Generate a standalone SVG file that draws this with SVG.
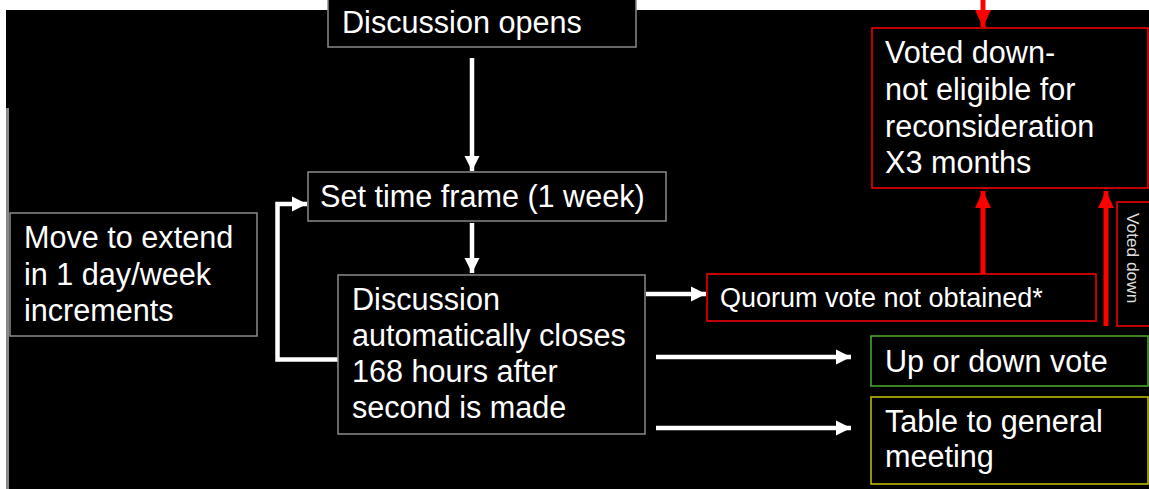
<svg xmlns="http://www.w3.org/2000/svg" width="1149" height="489" viewBox="0 0 1149 489">
<style>
text{font-family:"Liberation Sans",Arial,sans-serif;fill:#fff;font-size:30.6px}
.g{fill:#000;stroke:#8a8a8a;stroke-width:1.5}
.r{fill:#000;stroke:#ff0000;stroke-width:1.5}
.gr{fill:#000;stroke:#4cb02c;stroke-width:1.5}
.y{fill:#000;stroke:#c8c400;stroke-width:1.5}
.w{fill:none;stroke:#fff;stroke-width:4.5}
.rl{fill:none;stroke:#ff0000;stroke-width:5}
</style>
<defs>
<marker id="wa" markerUnits="userSpaceOnUse" markerWidth="16" markerHeight="16" refX="15" refY="8" orient="auto" viewBox="0 0 16 16"><path d="M0,0.5 L15,8 L0,15.5 Z" fill="#fff"/></marker>
<marker id="ra" markerUnits="userSpaceOnUse" markerWidth="18" markerHeight="18" refX="17" refY="9" orient="auto" viewBox="0 0 18 18"><path d="M0,1 L17,9 L0,17 Z" fill="#ff0000"/></marker>
</defs>
<rect x="0" y="0" width="1149" height="489" fill="#fff"/>
<rect x="6" y="10" width="1143" height="479" fill="#000"/>
<rect x="6" y="108" width="3" height="381" fill="#888"/>
<g id="connectors">
<path class="w" d="M472,58 V171" marker-end="url(#wa)"/>
<path class="w" d="M472,223 V273" marker-end="url(#wa)"/>
<path class="w" d="M338,359.5 H277.5 V204 H307" marker-end="url(#wa)"/>
<path class="w" d="M646,294 H706" marker-end="url(#wa)"/>
<path class="w" d="M656,357 H851" marker-end="url(#wa)"/>
<path class="w" d="M656,428 H851" marker-end="url(#wa)"/>
<path class="rl" d="M983,274 V191" marker-end="url(#ra)"/>
<path class="rl" d="M1106,326 V191" marker-end="url(#ra)"/>
<path class="rl" d="M983,0 V27" marker-end="url(#ra)"/>
</g>
<g id="n-open"><rect class="g" x="328" y="-5" width="308" height="52"/><text x="342" y="33">Discussion opens</text></g>
<g id="n-set"><rect class="g" x="308" y="172" width="358" height="49"/><text x="320" y="207">Set time frame (1 week)</text></g>
<g id="n-extend"><rect class="g" x="10" y="213" width="247" height="123"/><text x="24" y="248">Move to extend</text><text x="24" y="284.5">in 1 day/week</text><text x="24" y="321">increments</text></g>
<g id="n-disc"><rect class="g" x="338" y="275" width="307" height="159"/><text x="352" y="310">Discussion</text><text x="352" y="346">automatically closes</text><text x="352" y="382">168 hours after</text><text x="352" y="418">second is made</text></g>
<g id="n-quorum"><rect class="r" x="707" y="274" width="389" height="47"/><text x="720" y="307" style="font-size:27px">Quorum vote not obtained*</text></g>
<g id="n-updown"><rect class="gr" x="871" y="336" width="277" height="50"/><text x="885" y="372">Up or down vote</text></g>
<g id="n-table"><rect class="y" x="871" y="397" width="277" height="87"/><text x="885" y="432">Table to general</text><text x="885" y="467">meeting</text></g>
<g id="n-voted"><rect class="r" x="872" y="28" width="276" height="160"/><text x="885" y="63">Voted down-</text><text x="885" y="100">not eligible for</text><text x="885" y="137">reconsideration</text><text x="885" y="173">X3 months</text></g>
<g id="n-vd"><rect class="r" x="1117" y="202" width="40" height="124"/><text transform="translate(1126.5,213) rotate(90)" style="font-size:17.3px;fill:#ddd">Voted down</text></g>
</svg>
